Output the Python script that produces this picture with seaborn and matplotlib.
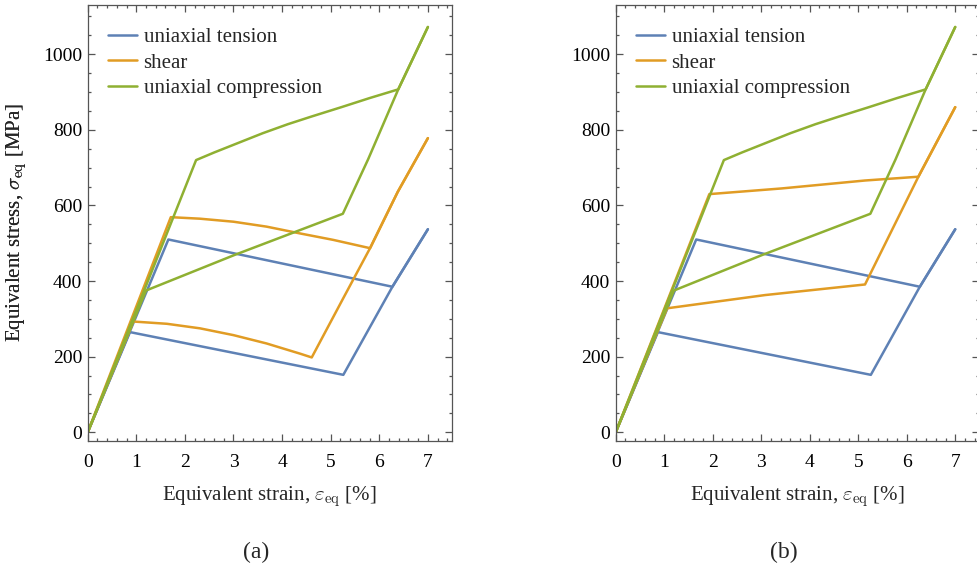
import numpy as np
import pandas as pd
import matplotlib
matplotlib.use("Agg")
import matplotlib.pyplot as plt
import seaborn as sns
from matplotlib.ticker import MultipleLocator

# ---------------- data ----------------
cases = ["uniaxial tension", "shear", "uniaxial compression"]
colors = ["#5E81B5", "#E19C24", "#8FB032"]

# uniaxial tension (same in both panels)
tension_1_x = [0, 1.66, 6.27, 7.0]
tension_1_y = [0, 510, 385, 537]
tension_2_x = [0, 0.87, 5.26, 6.27, 7.0]
tension_2_y = [0, 265, 152, 385, 537]

# uniaxial compression (same in both panels)
compression_1_x = [0, 2.23, 2.60, 3.09, 3.60, 4.12, 4.60, 5.22, 5.80, 6.39, 7.0]
compression_1_y = [0, 720, 740, 765, 791, 815, 835, 860, 884, 907, 1072]
compression_2_x = [0, 1.20, 3.02, 5.25, 5.77, 6.39, 7.0]
compression_2_y = [0, 375, 469, 578, 722, 907, 1072]

# shear, panel (a)
shear_a1_x = [0, 1.71, 2.31, 3.00, 3.68, 4.37, 5.05, 5.81, 6.38, 7.0]
shear_a1_y = [0, 569, 565, 557, 544, 526, 509, 487, 636, 778]
shear_a2_x = [0, 0.94, 1.63, 2.31, 3.00, 3.68, 4.37, 4.61, 5.26, 5.81, 6.38, 7.0]
shear_a2_y = [0, 293, 287, 275, 257, 235, 208, 198, 355, 487, 636, 778]

# shear, panel (b)
shear_b1_x = [0, 1.93, 3.42, 5.14, 6.24, 7.0]
shear_b1_y = [0, 630, 645, 666, 676, 860]
shear_b2_x = [0, 1.06, 3.08, 5.14, 6.24, 7.0]
shear_b2_y = [0, 328, 363, 391, 676, 860]

x_ticks = [0, 1, 2, 3, 4, 5, 6, 7]
y_ticks = [0, 200, 400, 600, 800, 1000]
panel_labels = ["(a)", "(b)"]


def make_frame(paths):
    rows = []
    for case, pid, xs, ys in paths:
        for i, (x, y) in enumerate(zip(xs, ys)):
            rows.append({"case": case, "path": pid, "order": i,
                         "strain": x, "stress": y})
    return pd.DataFrame(rows)


df_a = make_frame([
    (cases[0], "t1", tension_1_x, tension_1_y),
    (cases[0], "t2", tension_2_x, tension_2_y),
    (cases[1], "s1", shear_a1_x, shear_a1_y),
    (cases[1], "s2", shear_a2_x, shear_a2_y),
    (cases[2], "c1", compression_1_x, compression_1_y),
    (cases[2], "c2", compression_2_x, compression_2_y),
])
df_b = make_frame([
    (cases[0], "t1", tension_1_x, tension_1_y),
    (cases[0], "t2", tension_2_x, tension_2_y),
    (cases[1], "s1", shear_b1_x, shear_b1_y),
    (cases[1], "s2", shear_b2_x, shear_b2_y),
    (cases[2], "c1", compression_1_x, compression_1_y),
    (cases[2], "c2", compression_2_x, compression_2_y),
])

# ---------------- style ----------------
sns.set_theme(style="ticks")
plt.rcParams["font.family"] = ["Liberation Serif", "DejaVu Serif"]
plt.rcParams["mathtext.fontset"] = "cm"

W, H = 977, 569
fig = plt.figure(figsize=(W / 100, H / 100), dpi=100)

spine_col = "#555555"
ax_bottom_px, ax_top_px = 441, 4.7
axes_px = [(87.7, 364.0), (615.7, 363.3)]
caption_x = [256, 784]

for k, (df, (lpx, wpx)) in enumerate(zip([df_a, df_b], axes_px)):
    ax = fig.add_axes([lpx / W, (H - ax_bottom_px) / H, wpx / W,
                       (ax_bottom_px - ax_top_px) / H])
    sns.lineplot(data=df, x="strain", y="stress", hue="case", units="path",
                 hue_order=cases, palette=colors, estimator=None, sort=False,
                 lw=1.8, ax=ax)
    ax.set_xlim(0, 7.49)
    ax.set_ylim(-23, 1131)
    ax.set_xticks(x_ticks)
    ax.set_yticks(y_ticks)
    ax.xaxis.set_minor_locator(MultipleLocator(0.2))
    ax.yaxis.set_minor_locator(MultipleLocator(50))
    ax.tick_params(which="both", direction="in", top=True, right=True,
                   color=spine_col, width=0.9, labelsize=14, labelcolor="black")
    ax.tick_params(which="major", length=5)
    ax.tick_params(which="minor", length=2.5)
    ax.tick_params(axis="x", pad=9.5)
    ax.tick_params(axis="y", pad=4)
    for s in ax.spines.values():
        s.set_color(spine_col)
        s.set_linewidth(0.9)

    ax.set_xlabel(r"Equivalent strain, $\varepsilon_{\mathrm{eq}}$ [%]", fontsize=15)
    ax.set_ylabel(r"Equivalent stress, $\sigma_{\mathrm{eq}}$ [MPa]", fontsize=15)
    ax.xaxis.label.set_va("center")
    ax.xaxis.set_label_coords(0.5, -(497 - ax_bottom_px) / (ax_bottom_px - ax_top_px))
    ax.yaxis.set_label_coords(-(lpx - 29) / wpx, 0.5)

    handles, labels = ax.get_legend_handles_labels()
    ax.legend(handles, labels, loc="upper left",
              bbox_to_anchor=(20.5 / wpx, 0.947), borderaxespad=0, borderpad=0,
              frameon=False, fontsize=15, handlelength=1.4, handletextpad=0.3,
              labelspacing=0.27)

    fig.text(caption_x[k] / W, 1 - 552 / H, panel_labels[k], ha="center",
             va="center", fontsize=17)

fig.savefig("out.png", dpi=100)
